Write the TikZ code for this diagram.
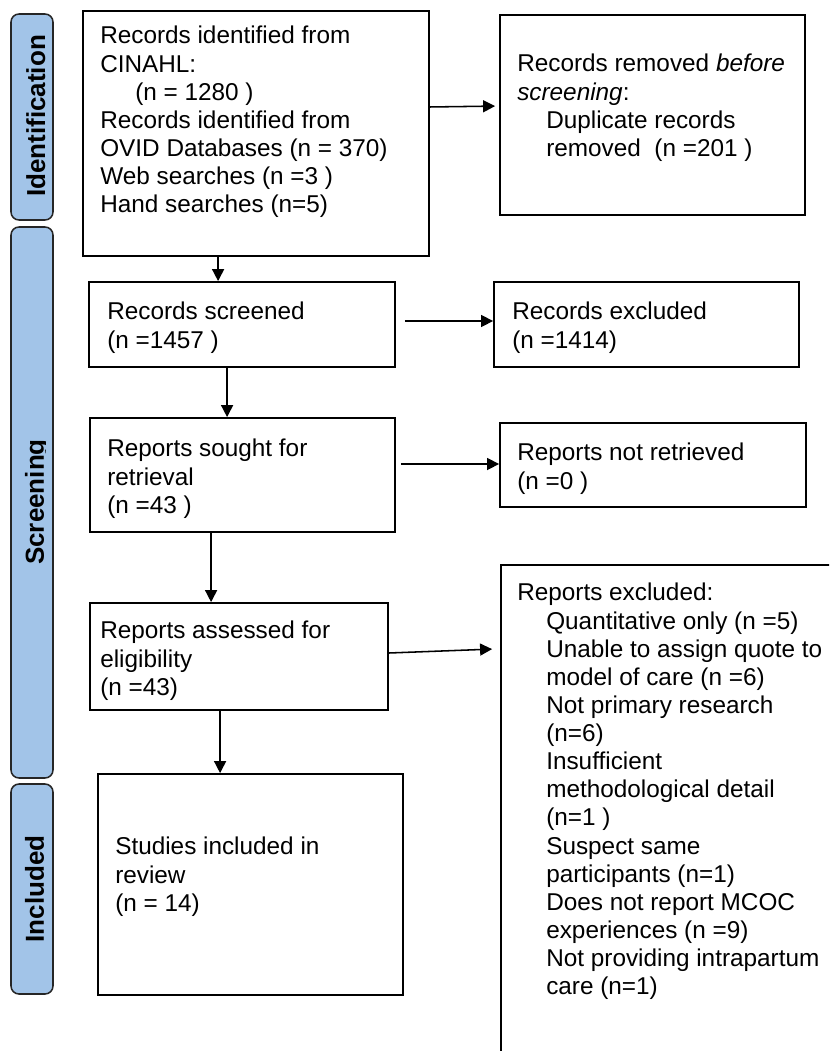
\documentclass[tikz,border=0pt]{standalone}
\usepackage{fontspec}
\setmainfont{Liberation Sans}
\usetikzlibrary{fit,arrows.meta}

\tikzset{
 box/.style={draw, line width=1.3pt, inner sep=0pt},
 txt/.style={anchor=north west, inner sep=0pt, align=left, font=\fontsize{17.3}{20}\selectfont},
 bar/.style={draw=black!85, line width=1.1pt, fill={rgb,255:red,162;green,196;blue,232}, rounded corners=0.2cm, inner sep=0pt},
 barlabel/.style={rotate=90, anchor=base, inner sep=0pt, font=\fontsize{18.5}{20}\selectfont\bfseries},
 arr/.style={line width=1.1pt, -{Triangle[length=0.3cm,width=0.3cm]}}
}

\begin{document}
\begin{tikzpicture}[x=0.025cm, y=-0.025cm]
\useasboundingbox (0,0) rectangle (829,1051);
\clip (0,0) rectangle (829,1051);

% side bars
\node[bar, fit={(11,14) (53,220)}] (idbar) {};
\node[bar, fit={(11,227) (53,778)}] (scrbar) {};
\node[bar, fit={(11,784) (53,994)}] (incbar) {};
\node[barlabel] (idlbl) at (45,116) {Identification};
\begin{scope}
\clip (11,227) rectangle (45,778);
\node[barlabel] (scrlbl) at (44,502) {Screening};
\end{scope}
\node[barlabel] (inclbl) at (44,889) {Included};

% left column
\node[box, fit={(83,11) (429,256)}] (ident) {};
\node[txt] (identtxt) at (100,26) {Records identified from\\CINAHL:\\\hspace*{0.875cm}(n = 1280 )\\Records identified from\\OVID Databases (n = 370)\\Web searches (n =3 )\\Hand searches (n=5)};

\node[box, fit={(89,282) (395,367)}] (screened) {};
\node[txt] (screenedtxt) at (107,302) {Records screened\\(n =1457 )};

\node[box, fit={(90,418) (395,532)}] (sought) {};
\node[txt] (soughttxt) at (107,439) {Reports sought for\\retrieval\\(n =43 )};

\node[box, fit={(90,603) (388,710)}] (assessed) {};
\node[txt] (assessedtxt) at (100,621) {Reports assessed for\\eligibility\\(n =43)};

\node[box, fit={(98,774) (403,995)}] (included) {};
\node[txt] (includedtxt) at (115,837) {Studies included in\\review\\(n = 14)};

% right column
\node[box, fit={(500,15) (805,215)}] (removed) {};
\node[txt] (removedtxt) at (517,54) {Records removed \emph{before}\\\emph{screening}:\\\hspace*{0.725cm}Duplicate records\\\hspace*{0.725cm}removed\ \ (n =201 )};

\node[box, fit={(494,282) (799,367)}] (excluded) {};
\node[txt] (excludedtxt) at (512,302) {Records excluded\\(n =1414)};

\node[box, fit={(500,423) (806,507)}] (notret) {};
\node[txt] (notrettxt) at (517,443) {Reports not retrieved\\(n =0 )};

\node[box, fit={(501,565) (845,1070)}] (repexcl) {};
\node[txt] (repexcltxt) at (517,583) {Reports excluded:\\
\hspace*{0.725cm}Quantitative only (n =5)\\
\hspace*{0.725cm}Unable to assign quote to\\
\hspace*{0.725cm}model of care (n =6)\\
\hspace*{0.725cm}Not primary research\\
\hspace*{0.725cm}(n=6)\\
\hspace*{0.725cm}Insufficient\\
\hspace*{0.725cm}methodological detail\\
\hspace*{0.725cm}(n=1 )\\
\hspace*{0.725cm}Suspect same\\
\hspace*{0.725cm}participants (n=1)\\
\hspace*{0.725cm}Does not report MCOC\\
\hspace*{0.725cm}experiences (n =9)\\
\hspace*{0.725cm}Not providing intrapartum\\
\hspace*{0.725cm}care (n=1)};

% arrows down
\draw[arr] ([shift={(136,0)}]ident.south west) -- ([shift={(130,0)}]screened.north west);
\draw[arr] ([shift={(139,0)}]screened.south west) -- ([shift={(138,0)}]sought.north west);
\draw[arr] ([shift={(122,0)}]sought.south west) -- ([shift={(122,0)}]assessed.north west);
\draw[arr] ([shift={(131,0)}]assessed.south west) -- ([shift={(123,0)}]included.north west);

% arrows right
\draw[arr] ([shift={(-1,-26.5)}]ident.east) -- ([shift={(-4,92)}]removed.north west);
\draw[arr] ([shift={(9,-3.5)}]screened.east) -- ([shift={(0,-3.5)}]excluded.west);
\draw[arr] ([shift={(5,-11)}]sought.east) -- ([shift={(0,-1)}]notret.west);
\draw[arr] ([shift={(0,-3.5)}]assessed.east) -- ([shift={(-8,85)}]repexcl.north west);
\end{tikzpicture}
\end{document}
